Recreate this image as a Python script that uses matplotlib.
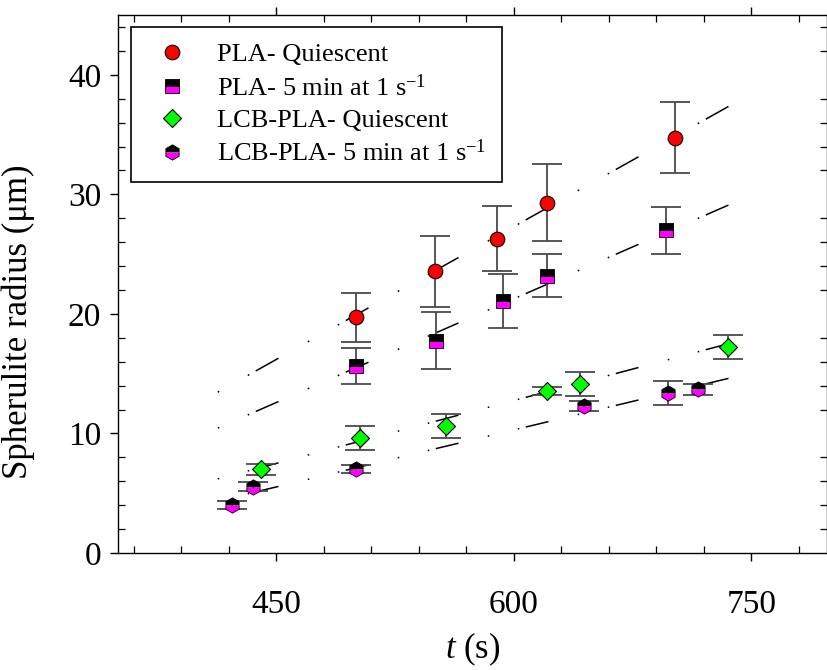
import numpy as np
import matplotlib
matplotlib.use("Agg")
import matplotlib.pyplot as plt
from matplotlib.ticker import MultipleLocator

plt.rcParams['font.family'] = ['Liberation Serif', 'DejaVu Serif']
plt.rcParams['mathtext.fontset'] = 'custom'
plt.rcParams['mathtext.rm'] = 'Liberation Serif'
plt.rcParams['mathtext.it'] = 'Liberation Serif:italic'
plt.rcParams['mathtext.default'] = 'regular'

# ---------------- data ----------------
pla_q_t = [500, 550, 589, 621, 702]
pla_q_r = [19.7, 23.55, 26.3, 29.3, 34.75]
pla_q_e = [2.05, 3.0, 2.7, 3.2, 3.0]

pla_s_t = [500, 551, 593, 621, 696]
pla_s_r = [15.65, 17.75, 21.1, 23.2, 27.0]
pla_s_e = [1.5, 2.4, 2.25, 1.8, 1.95]

lcb_q_t = [440, 503, 557, 621, 642, 735]
lcb_q_r = [7.0, 9.65, 10.65, 13.55, 14.15, 17.25]
lcb_q_e = [0.45, 1.0, 1.0, 0.35, 1.0, 1.0]

lcb_s_t = [422, 435, 500, 644, 697, 716]
lcb_s_r = [4.0, 5.55, 7.0, 12.3, 13.4, 13.7]
lcb_s_e = [0.35, 0.35, 0.35, 0.4, 1.0, 0.45]

fit_t = [413, 751]
fit_pla_q = [13.45, 38.5]
fit_pla_s = [10.45, 30.0]
fit_lcb_q = [6.2, 18.05]
fit_lcb_s = [4.35, 15.1]

labels = ['PLA- Quiescent', 'PLA- 5 min at 1 s$^{-1}$',
          'LCB-PLA- Quiescent', 'LCB-PLA- 5 min at 1 s$^{-1}$']

# ---------------- figure ----------------
W, H = 828, 670
fig = plt.figure(figsize=(W / 100, H / 100), dpi=100)
ax = fig.add_axes([118 / W, 117 / H, 709.5 / W, 538 / H])
ax.set_xlim(350, 798)
ax.set_ylim(0, 45)

# fit lines with sparse dot-dot-dash pattern
fit_lw = 1.1
base_px = np.array([1.5, 28.5, 1.5, 6.5, 22.7, 29.3])
fig.canvas.draw()
for fy in [fit_pla_q, fit_pla_s, fit_lcb_q, fit_lcb_s]:
    p = ax.transData.transform(np.column_stack([fit_t, fy]))
    dx, dy = p[1] - p[0]
    factor = np.hypot(dx, dy) / abs(dx)
    pattern = tuple(base_px * factor * 0.72 / fit_lw)
    ax.plot(fit_t, fy, color='black', lw=fit_lw, linestyle=(0, pattern),
            dash_capstyle='butt', zorder=2)

err_kw = dict(fmt='none', ecolor='#4a4a4a', elinewidth=1.3, capsize=11,
              capthick=1.3, zorder=3)
ax.errorbar(pla_q_t, pla_q_r, yerr=pla_q_e, **err_kw)
ax.errorbar(pla_s_t, pla_s_r, yerr=pla_s_e, **err_kw)
ax.errorbar(lcb_q_t, lcb_q_r, yerr=lcb_q_e, **err_kw)
ax.errorbar(lcb_s_t, lcb_s_r, yerr=lcb_s_e, **err_kw)

h1, = ax.plot(pla_q_t, pla_q_r, 'o', ms=10.5, mfc='#ff0000', mec='black',
              mew=0.8, ls='none', zorder=4, label=labels[0])
h2, = ax.plot(pla_s_t, pla_s_r, 's', ms=9.6, mfc='black', mfcalt='#ff00ff',
              fillstyle='top', mec='black', mew=0.6, ls='none', zorder=4,
              label=labels[1])
h3, = ax.plot(lcb_q_t, lcb_q_r, 'D', ms=9.3, mfc='#00ff00', mec='black',
              mew=0.8, ls='none', zorder=4, label=labels[2])
h4, = ax.plot(lcb_s_t, lcb_s_r, 'h', ms=11, mfc='black', mfcalt='#ff00ff',
              fillstyle='top', mec='black', mew=0.6, ls='none', zorder=4,
              label=labels[3])

# ticks
ax.xaxis.set_major_locator(MultipleLocator(150))
ax.xaxis.set_minor_locator(MultipleLocator(30))
ax.yaxis.set_major_locator(MultipleLocator(10))
ax.yaxis.set_minor_locator(MultipleLocator(2))
ax.tick_params(which='major', direction='out', length=6, width=1.0,
               top=True, right=True, labelsize=24, colors='black')
ax.tick_params(which='minor', direction='in', length=5, width=0.9,
               top=True, right=True)
ax.tick_params(axis='x', which='major', pad=20)
ax.tick_params(axis='y', which='major', pad=6)
for s in ax.spines.values():
    s.set_linewidth(1.0)

ax.set_xlabel('$\\mathit{t}$ (s)', fontsize=25, labelpad=8)
ax.set_ylabel('Spherulite radius (\u03bcm)', fontsize=25)
ax.yaxis.set_label_coords(-0.117, 0.43)

leg = ax.legend(handles=[h1, h2, h3, h4], loc='upper left',
                bbox_to_anchor=(0.0183, 0.978), borderaxespad=0,
                fontsize=19, frameon=True, fancybox=False, framealpha=1,
                edgecolor='black', borderpad=0.6, handlelength=1.9,
                handletextpad=0.75, labelspacing=0.3, numpoints=1)
leg.get_frame().set_linewidth(1.2)

fig.savefig('out.png', dpi=100)
